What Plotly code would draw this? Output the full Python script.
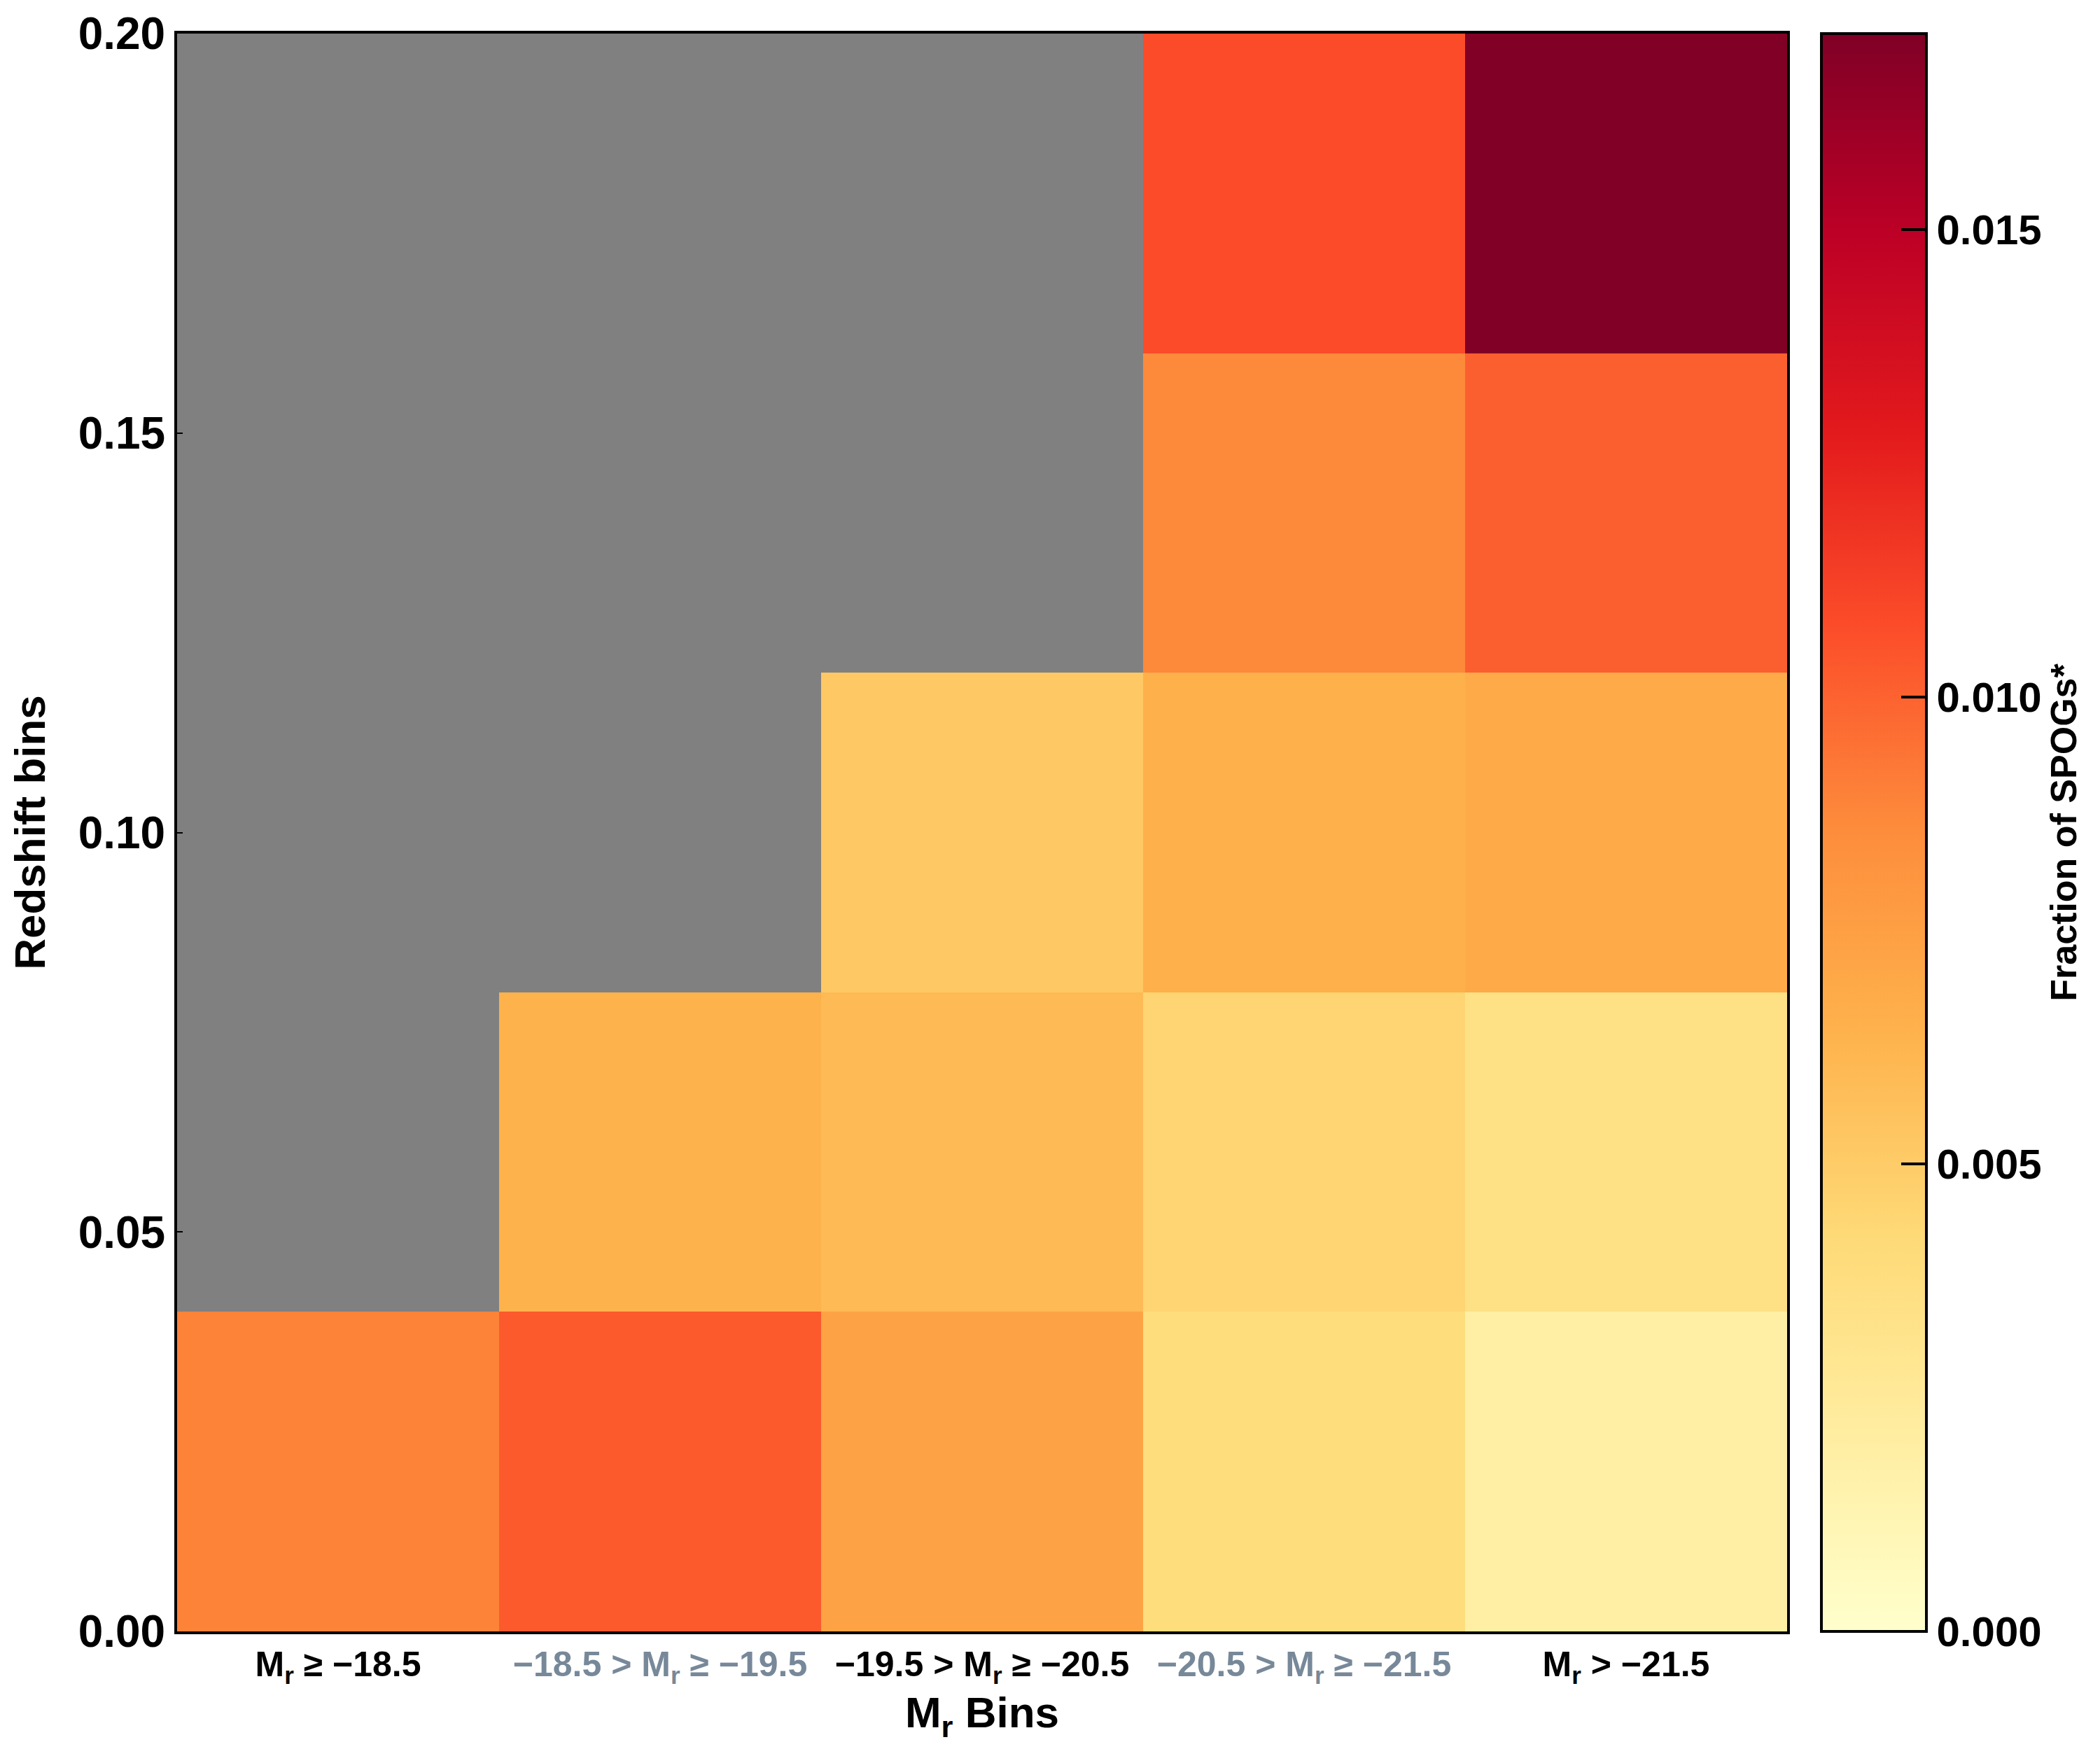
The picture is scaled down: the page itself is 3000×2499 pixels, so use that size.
import plotly.graph_objects as go

# ---- data ----
mag_labels = [
    "M<sub>r</sub> ≥ −18.5",
    "−18.5 > M<sub>r</sub> ≥ −19.5",
    "−19.5 > M<sub>r</sub> ≥ −20.5",
    "−20.5 > M<sub>r</sub> ≥ −21.5",
    "M<sub>r</sub> > −21.5",
]
label_colors = ["black", "#778899", "black", "#778899", "black"]
mag_centers = [0, 1, 2, 3, 4]
z_centers = [0.02, 0.06, 0.10, 0.14, 0.18]
# fraction of SPOGs* per (redshift row, magnitude column); None = no data
frac = [
    [0.0089, 0.0103, 0.0073, 0.0039, 0.0019],
    [None,   0.0064, 0.0060, 0.0045, 0.0035],
    [None,   None,   0.0052, 0.0065, 0.0069],
    [None,   None,   None,   0.0087, 0.0101],
    [None,   None,   None,   0.0108, 0.0171],
]
cb_major = [0.0, 0.005, 0.010, 0.015]
cb_major_text = ["0.000", "0.005", "0.010", "0.015"]
cb_minor = [0.0025, 0.0075, 0.0125]
y_ticks = [0.0, 0.05, 0.10, 0.15, 0.20]
y_ticktext = ["0.00", "0.05", "0.10", "0.15", "0.20"]
zmax = 0.0171

ylorrd = ['#ffffcc', '#ffeda0', '#fed976', '#feb24c', '#fd8d3c',
          '#fc4e2a', '#e31a1c', '#bd0026', '#800026']
cscale = [[i / (len(ylorrd) - 1), c] for i, c in enumerate(ylorrd)]

FONT = "Liberation Sans, Arial, sans-serif"
NARROW = "Liberation Sans Narrow, Liberation Sans, Arial, sans-serif"

# layout geometry (pixels)
W, H = 3000, 2499
L, R, T, B = 245, 2545, 40, 2323
cb_x = (2594 - L) / (R - L)
cb_thick = 150

fig = go.Figure()
fig.add_trace(go.Heatmap(
    x=mag_centers, y=z_centers, z=frac,
    colorscale=cscale, zmin=0, zmax=zmax,
    hoverongaps=False,
    colorbar=dict(
        x=cb_x, xanchor="left", xpad=0, ypad=0,
        y=0.5, yanchor="middle", len=1, lenmode="fraction",
        thickness=cb_thick, thicknessmode="pixels",
        outlinewidth=4, outlinecolor="black",
        tickmode="array", tickvals=cb_major, ticktext=cb_major_text,
        ticks="inside", ticklen=38, tickwidth=4, tickcolor="black",
        ticklabeloverflow="allow",
        tickfont=dict(family=FONT, size=60, color="black", weight="bold"),
        title=dict(text="Fraction of SPOGs*", side="right",
                   font=dict(family=FONT, size=52, color="black", weight="bold")),
    ),
))
# transparent overlay colorbar carrying the short minor ticks
fig.add_trace(go.Heatmap(
    x=[0], y=[0.02], z=[[None]],
    colorscale=[[0, "rgba(0,0,0,0)"], [1, "rgba(0,0,0,0)"]],
    zmin=0, zmax=zmax, hoverinfo="skip",
    colorbar=dict(
        x=cb_x, xanchor="left", xpad=0, ypad=0,
        y=0.5, yanchor="middle", len=1, lenmode="fraction",
        thickness=cb_thick, thicknessmode="pixels",
        outlinewidth=0,
        tickmode="array", tickvals=cb_minor,
        ticks="inside", ticklen=20, tickwidth=4, tickcolor="black",
        showticklabels=False,
    ),
))

ticktext = [f"<span style='color:{c}'>{t}</span>" for t, c in zip(mag_labels, label_colors)]

fig.update_layout(
    width=W, height=H,
    margin=dict(l=L, r=W - R, t=T, b=H - B, autoexpand=False),
    paper_bgcolor="white", plot_bgcolor="#808080",
    xaxis=dict(
        range=[-0.5, 4.5], tickmode="array", tickvals=mag_centers, ticktext=ticktext,
        showgrid=False, zeroline=False, showline=True, linecolor="black", linewidth=4,
        mirror=True, ticks="", automargin=False,
        tickfont=dict(family=NARROW, size=50, color="black", weight="bold"),
        title=dict(text="M<sub>r</sub> Bins", standoff=8,
                   font=dict(family=NARROW, size=62, color="black", weight="bold")),
    ),
    yaxis=dict(
        range=[0, 0.2], tickmode="array", tickvals=y_ticks, ticktext=y_ticktext,
        showgrid=False, zeroline=False, showline=True, linecolor="black", linewidth=4,
        mirror=True, ticks="inside", ticklen=8, tickwidth=2, tickcolor="black",
        ticklabeloverflow="allow", automargin=False,
        tickfont=dict(family=FONT, size=64, color="black", weight="bold"),
        title=dict(text="Redshift bins", standoff=40,
                   font=dict(family=FONT, size=62, color="black", weight="bold")),
    ),
    showlegend=False,
)

fig.write_html("out.html")
